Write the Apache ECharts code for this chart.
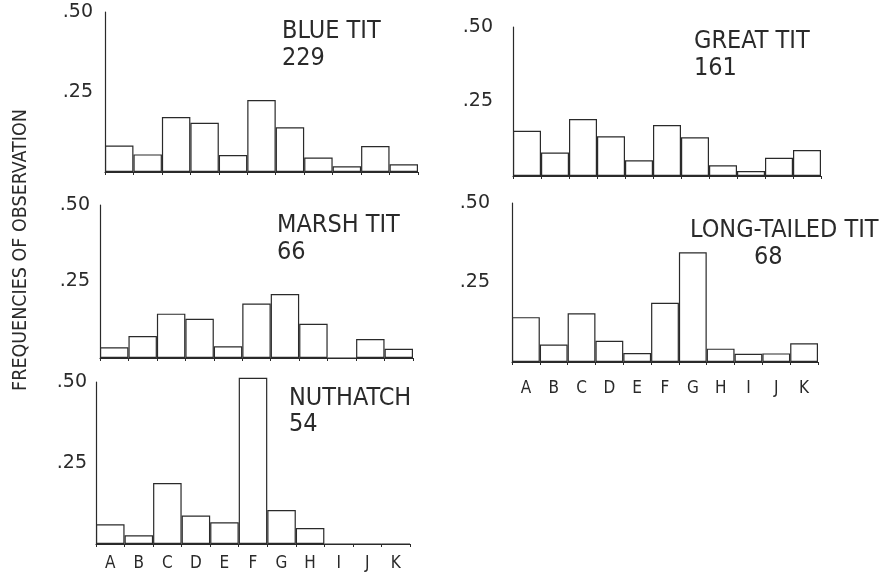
<!DOCTYPE html>
<html>
<head>
<meta charset="utf-8">
<script src="https://cdn.jsdelivr.net/npm/echarts@6/dist/echarts.min.js"></script>
<style>
  html, body { margin: 0; background: #fff; }
  #chart { width: 881px; height: 572px; }
</style>
</head>
<body>
<div id="chart"></div>
<script>
// 数据
var categories = ['A', 'B', 'C', 'D', 'E', 'F', 'G', 'H', 'I', 'J', 'K'];
var yTicks = { 0.25: '.25', 0.5: '.50' };

var blueTit    = [0.083, 0.055, 0.172, 0.154, 0.053, 0.225, 0.140, 0.045, 0.018, 0.081, 0.024];
var greatTit   = [0.152, 0.079, 0.191, 0.133, 0.053, 0.171, 0.130, 0.036, 0.017, 0.061, 0.087];
var marshTit   = [0.035, 0.072, 0.145, 0.128, 0.038, 0.178, 0.209, 0.112, 0, 0.062, 0.030];
var longTailed = [0.141, 0.055, 0.153, 0.067, 0.028, 0.186, 0.345, 0.042, 0.026, 0.027, 0.059];
var nuthatch   = [0.061, 0.027, 0.188, 0.088, 0.067, 0.513, 0.105, 0.049, 0, 0, 0];

var species = ['BLUE TIT', 'GREAT TIT', 'MARSH TIT', 'LONG-TAILED TIT', 'NUTHATCH'];
var counts = ['229', '161', '66', '68', '54'];
var seriesData = [blueTit, greatTit, marshTit, longTailed, nuthatch];

var font = 'DejaVu Sans Condensed';
var ink = '#2a2a2a';

// 每个小图的位置
var panels = [
  { left: 105, top: 12,  width: 313, height: 160, yMargin: 12, xLabel: false, nameX: 277, nameY: 14,  numX: 277, numY: 41 },
  { left: 513, top: 27,  width: 308, height: 149, yMargin: 20, xLabel: false, nameX: 689, nameY: 24,  numX: 689, numY: 51 },
  { left: 100, top: 205, width: 313, height: 153, yMargin: 10, xLabel: false, nameX: 272, nameY: 208, numX: 272, numY: 235 },
  { left: 512, top: 203, width: 306, height: 159, yMargin: 22, xLabel: true, xMargin: 18, nameX: 685, nameY: 213, numX: 749, numY: 240 },
  { left: 96,  top: 382, width: 314, height: 162, yMargin: 9,  xLabel: true, xMargin: 11, nameX: 284, nameY: 381, numX: 284, numY: 407 }
];

var grids = [], xAxes = [], yAxes = [], series = [], titles = [];

panels.forEach(function (p, i) {
  grids.push({ left: p.left, top: p.top, width: p.width, height: p.height });
  xAxes.push({
    type: 'category',
    gridIndex: i,
    data: categories,
    axisLine: { lineStyle: { color: ink, width: 1.2 } },
    axisTick: { show: true, length: 3, lineStyle: { color: ink } },
    axisLabel: {
      show: p.xLabel,
      margin: p.xMargin || 8,
      color: ink,
      fontFamily: font,
      fontSize: 17
    }
  });
  yAxes.push({
    type: 'value',
    gridIndex: i,
    min: 0,
    max: 0.5,
    interval: 0.25,
    splitLine: { show: false },
    axisLine: { show: true, lineStyle: { color: ink, width: 1.2 } },
    axisTick: { show: false },
    axisLabel: {
      margin: p.yMargin,
      color: ink,
      fontFamily: 'DejaVu Sans',
      fontSize: 19,
      formatter: function (v) { return yTicks[v] || ''; }
    }
  });
  series.push({
    type: 'bar',
    xAxisIndex: i,
    yAxisIndex: i,
    data: seriesData[i],
    barCategoryGap: 0,
    clip: false,
    itemStyle: { color: '#fff', borderColor: ink, borderWidth: 1.2 },
    silent: true
  });
  titles.push({
    text: species[i],
    left: p.nameX,
    top: p.nameY,
    textStyle: { fontFamily: font, fontWeight: 'normal', fontSize: 25, color: ink }
  });
  titles.push({
    text: counts[i],
    left: p.numX,
    top: p.numY,
    textStyle: { fontFamily: font, fontWeight: 'normal', fontSize: 25, color: ink }
  });
});

var myChart = echarts.init(document.getElementById('chart'));
myChart.setOption({
  backgroundColor: '#fff',
  animation: false,
  title: titles,
  grid: grids,
  xAxis: xAxes,
  yAxis: yAxes,
  series: series,
  graphic: [{
    type: 'text',
    x: 21,
    y: 250,
    rotation: Math.PI / 2,
    style: {
      text: 'FREQUENCIES OF OBSERVATION',
      fill: ink,
      font: '19.5px "DejaVu Sans Condensed"',
      textAlign: 'center',
      textVerticalAlign: 'middle'
    }
  }]
});
</script>
</body>
</html>
